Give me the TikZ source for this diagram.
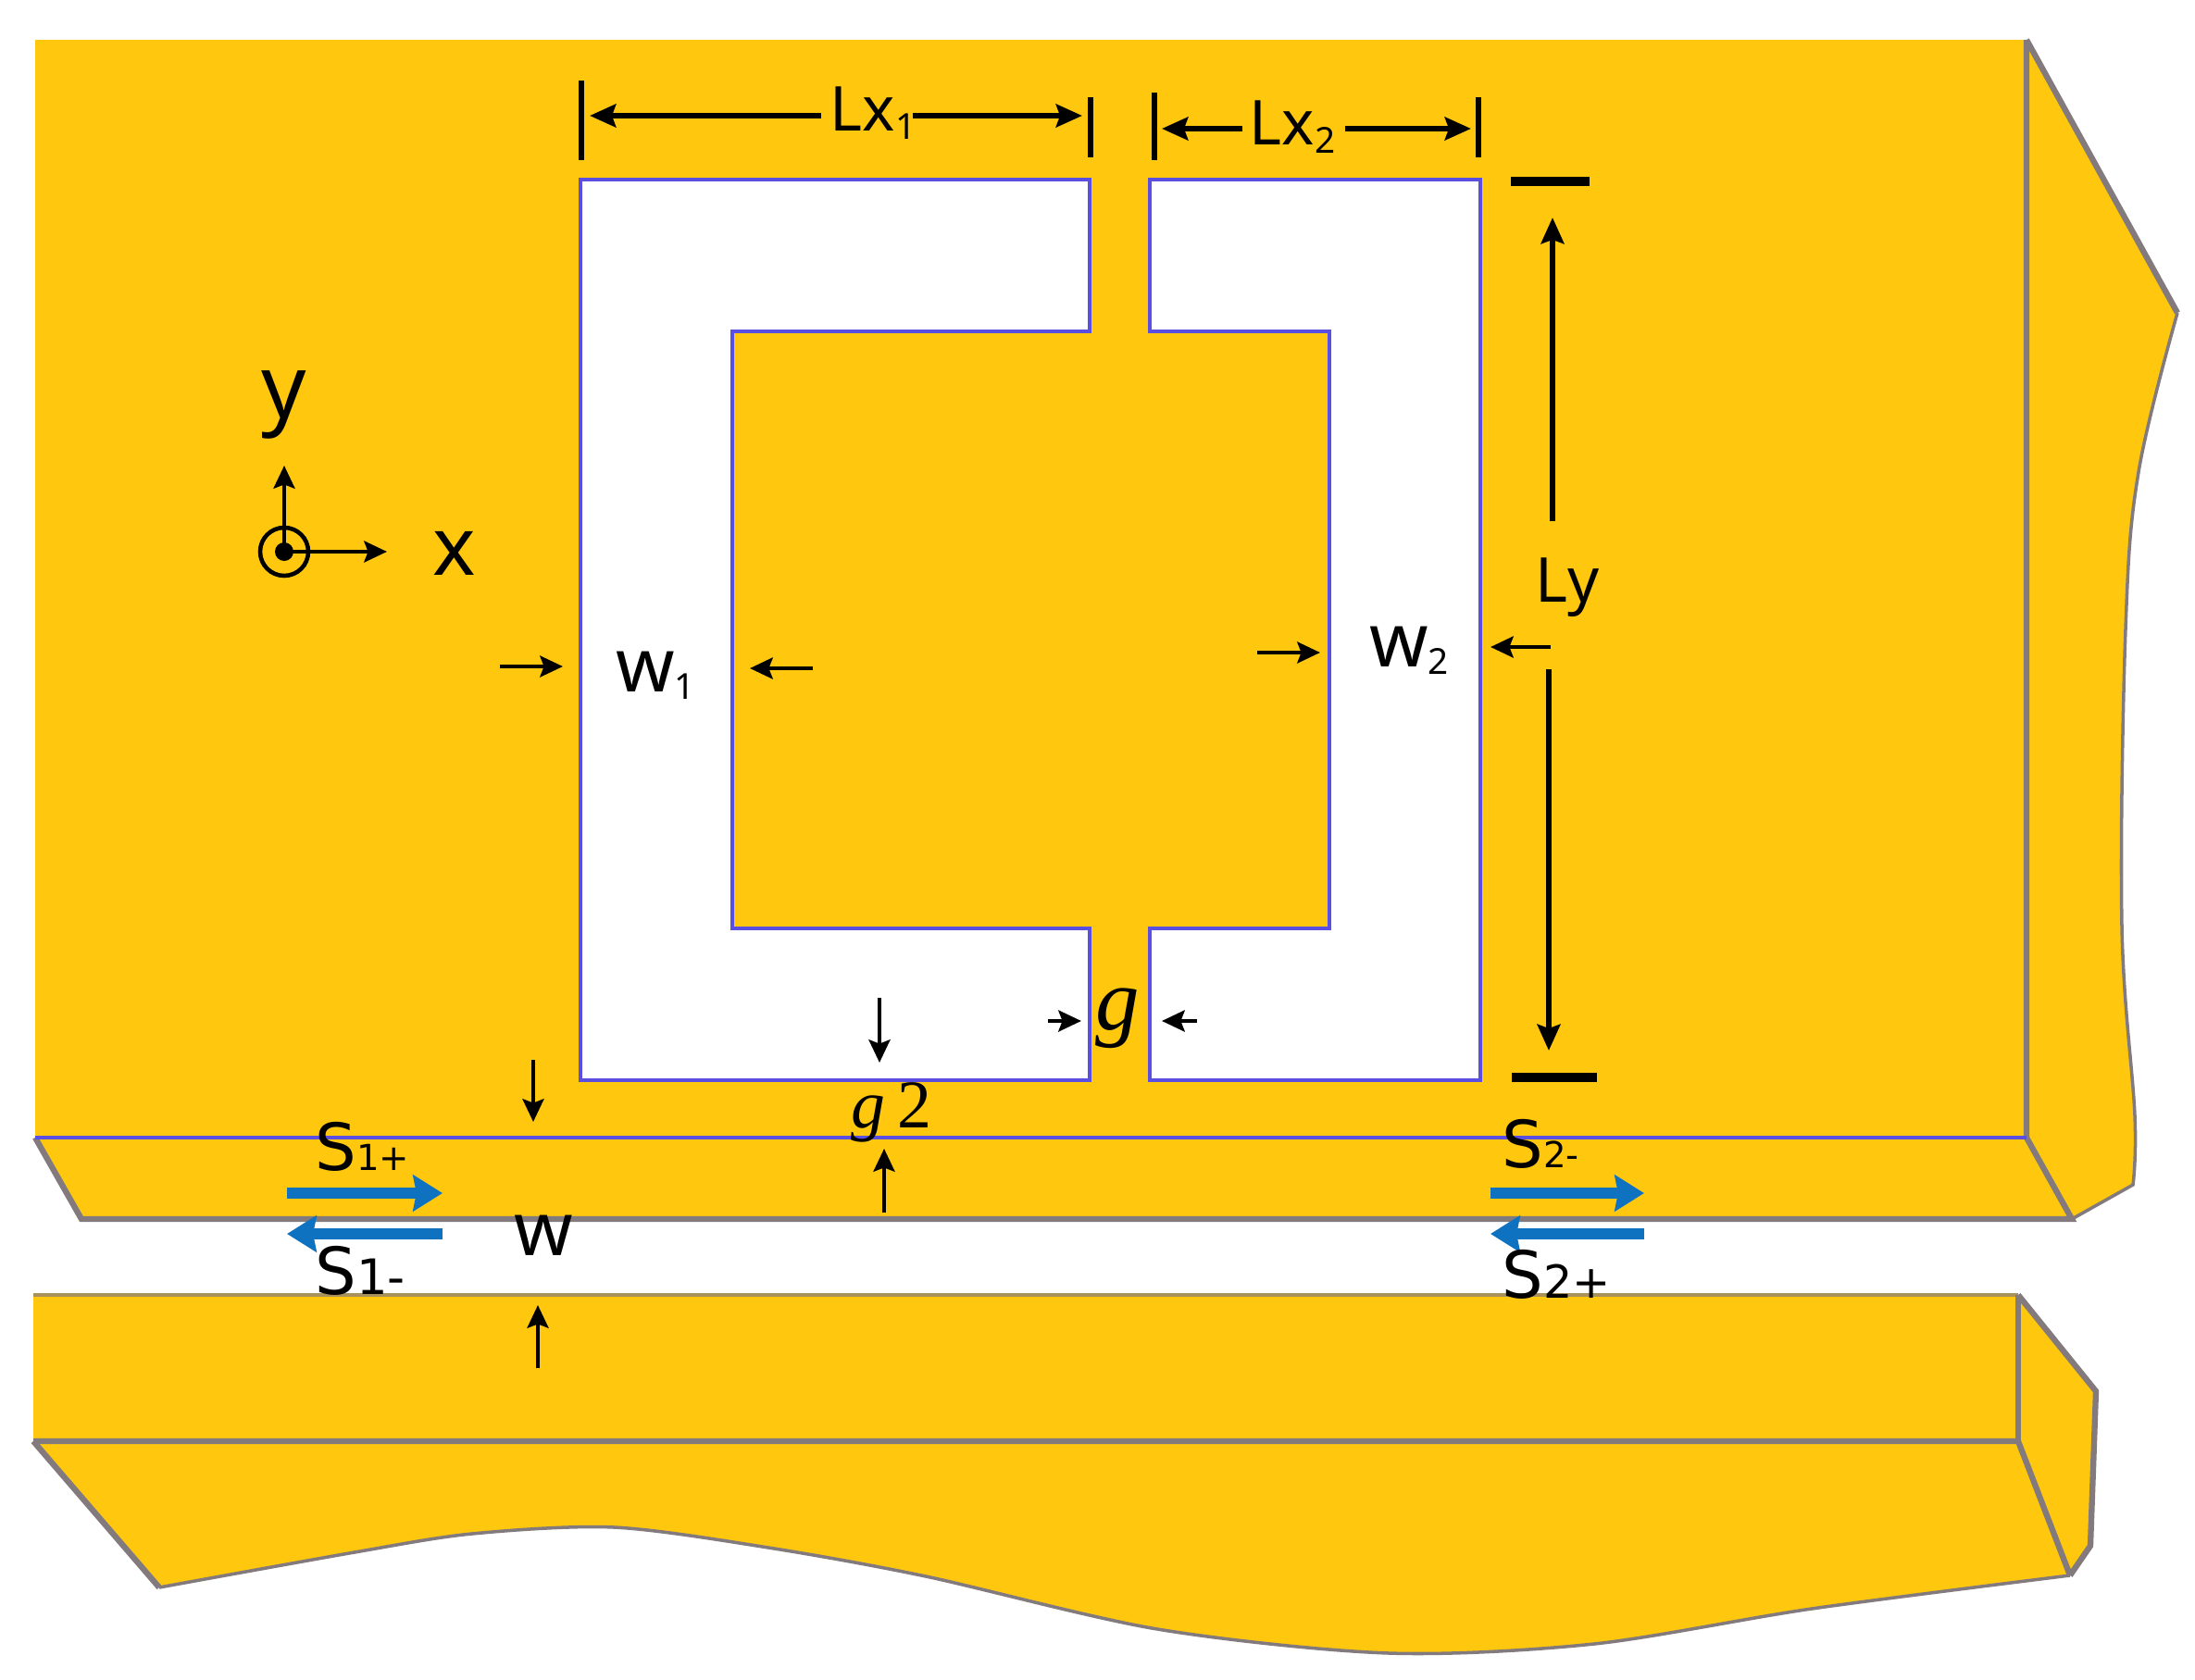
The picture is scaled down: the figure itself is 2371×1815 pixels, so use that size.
\documentclass[tikz,border=0pt]{standalone}
\usepackage{fontspec}
\setmainfont{Noto Sans}
\newfontfamily\gfont{Liberation Serif}
\newfontfamily\portfont{DejaVu Sans}
\usetikzlibrary{
    arrows.meta,
    calc
}
\definecolor{metal}{HTML}{FFC80E}
\definecolor{edgegrey}{HTML}{827A7C}
\definecolor{slotblue}{HTML}{5A4FE0}
\definecolor{wavblue}{HTML}{0E72C0}
\newcommand{\lowdig}[1]{{\fontsize{11}{11}\selectfont\raisebox{-0.4ex}{#1}}}
\newcommand{\portsub}[2]{{\fontsize{#1}{#1}\selectfont #2}}
\tikzset{
    edgeline/.style={edgegrey, line width=1.8pt, line join=miter},
    thinedge/.style={edgegrey, line width=1pt},
    slotline/.style={fill=white, draw=slotblue, line width=1.1pt},
    dimarrow/.style={-{Stealth[length=7pt, width=6.5pt, inset=1.2pt]}, black, line width=1.3pt},
    boldarrow/.style={-{Stealth[length=8pt, width=7pt, inset=1.2pt]}, black, line width=1.9pt},
    fatarrow/.style={-{Stealth[length=9pt, width=11pt, inset=1pt]}, wavblue, line width=3.6pt},
    dimtick/.style={black, line width=1.7pt},
    dimbar/.style={black, line width=2.8pt},
    biglab/.style={inner sep=0pt, font=\fontsize{27}{27}\selectfont},
    dimlab/.style={inner sep=0pt, font=\fontsize{19}{19}\selectfont},
    widthlab/.style={inner sep=0pt, font=\fontsize{23}{23}\selectfont},
    portlab/.style={inner sep=0pt, anchor=base west, font=\fontsize{20}{20}\selectfont\portfont},
    gaplab/.style={inner sep=0pt, font=\fontsize{21}{21}\selectfont\gfont}
}

\begin{document}
\begin{tikzpicture}[x=0.01cm, y=-0.01cm]
    \useasboundingbox (0, 0) rectangle (2371, 1815);
    \fill[white] (0, 0) rectangle (2371, 1815);

    \fill[metal] (38, 43) -- (2189, 43) -- (2352, 338)
        -- plot[smooth, tension=0.6] coordinates {(2352, 338) (2310, 510) (2296, 680) (2292, 1000) (2306, 1205) (2304, 1280)}
        -- (2238, 1317) -- (88, 1317) -- (38, 1229) -- cycle;
    \fill[metal] (36, 1399) -- (2180, 1399) -- (2264, 1503) -- (2258, 1670) -- (2236, 1702)
        -- plot[smooth, tension=0.5] coordinates {(2236, 1702) (1957, 1738) (1722, 1776) (1500, 1786) (1250, 1760) (1000, 1703) (830, 1672) (663, 1650) (510, 1657) (383, 1677) (172, 1715)}
        -- (36, 1557) -- cycle;

    \draw[edgeline] (2189, 43) -- (2189, 1229) -- (2238, 1317) -- (88, 1317) -- (38, 1229);
    \draw[edgeline] (2189, 43) -- (2352, 338);
    \draw[thinedge] plot[smooth, tension=0.6] coordinates {(2352, 338) (2310, 510) (2296, 680) (2292, 1000) (2306, 1205) (2304, 1280)} -- (2238, 1317);
    \draw[slotblue, line width=1.1pt] (38, 1229) -- (2189, 1229);

    \draw[edgegrey!70!metal, line width=1pt] (36, 1399) -- (2180, 1399);
    \draw[edgeline] (36, 1557) -- (2180, 1557) -- (2236, 1702);
    \draw[edgeline] (2180, 1399) -- (2180, 1557);
    \draw[edgeline] (2180, 1399) -- (2264, 1503) -- (2258, 1670) -- (2236, 1702);
    \draw[edgeline] (36, 1557) -- (172, 1715);
    \draw[thinedge] plot[smooth, tension=0.5] coordinates {(2236, 1702) (1957, 1738) (1722, 1776) (1500, 1786) (1250, 1760) (1000, 1703) (830, 1672) (663, 1650) (510, 1657) (383, 1677) (172, 1715)};

    \draw[slotline] (627, 194) -- (1177, 194) -- (1177, 358) -- (791, 358) -- (791, 1003)
        -- (1177, 1003) -- (1177, 1167) -- (627, 1167) -- cycle;
    \draw[slotline] (1242, 194) -- (1599, 194) -- (1599, 1167) -- (1242, 1167) -- (1242, 1003)
        -- (1436, 1003) -- (1436, 358) -- (1242, 358) -- cycle;

    \draw[dimtick] (628, 87) -- (628, 173);
    \draw[dimtick] (1178, 105) -- (1178, 170);
    \draw[dimtick] (1247, 100) -- (1247, 173);
    \draw[dimtick] (1597, 105) -- (1597, 170);
    \draw[dimbar] (1632, 196) -- (1717, 196);
    \draw[dimbar] (1633, 1164) -- (1725, 1164);

    \node[dimlab] (lxone) at (943, 122) {Lx\lowdig{1}};
    \node[dimlab] (lxtwo) at (1396, 137) {Lx\lowdig{2}};
    \node[dimlab] (ly) at (1693, 635) {Ly};
    \draw[boldarrow] (887, 125) -- (637, 125);
    \draw[boldarrow] (986, 125) -- (1169, 125);
    \draw[boldarrow] (1342, 139) -- (1255, 139);
    \draw[boldarrow] (1453, 139) -- (1589, 139);
    \draw[boldarrow] (1677, 563) -- (1677, 235);
    \draw[boldarrow] (1673, 723) -- (1673, 1135);

    \node[biglab] (ylab) at (307, 437) {y};
    \node[biglab, font=\fontsize{25}{25}\selectfont] (xlab) at (491, 598) {x};
    \draw[black, line width=1.3pt] (307, 596) circle (26);
    \fill[black] (307, 596) circle (10);
    \draw[dimarrow] (307, 596) -- (307, 503);
    \draw[dimarrow] (307, 596) -- (418, 596);

    \node[widthlab] (wone) at (708, 730) {w\lowdig{1}};
    \draw[dimarrow] (540, 720) -- (608, 720);
    \draw[dimarrow] (878, 722) -- (810, 722);
    \node[widthlab] (wtwo) at (1522, 703) {w\lowdig{2}};
    \draw[dimarrow] (1358, 705) -- (1426, 705);
    \draw[dimarrow] (1675, 699) -- (1610, 699);

    \node[gaplab, font=\fontsize{27}{27}\selectfont\gfont\itshape] (glab) at (1207, 1100) {g};
    \draw[dimarrow] (1132, 1103) -- (1168, 1103);
    \draw[dimarrow] (1293, 1103) -- (1255, 1103);
    \node[gaplab] (gtwo) at (963, 1202) {{\itshape g}\,2};
    \draw[dimarrow] (950, 1078) -- (950, 1148);
    \draw[dimarrow] (955, 1310) -- (955, 1241);

    \node[widthlab] (wlab) at (587, 1335) {w};
    \draw[dimarrow] (576, 1145) -- (576, 1212);
    \draw[dimarrow] (581, 1478) -- (581, 1410);

    \foreach \xa/\xb in {310/478, 1610/1776} {
        \draw[fatarrow] (\xa, 1289) -- (\xb, 1289);
        \draw[fatarrow] (\xb, 1333) -- (\xa, 1333);
    }

    \node[portlab] (sonep) at (340, 1264) {S\portsub{11}{1+}};
    \node[portlab] (sonem) at (340, 1398) {S\portsub{15}{1-}};
    \node[portlab] (stwom) at (1622, 1261) {S\portsub{11}{2-}};
    \node[portlab] (stwop) at (1622, 1402) {S\portsub{14}{2+}};
\end{tikzpicture}
\end{document}
